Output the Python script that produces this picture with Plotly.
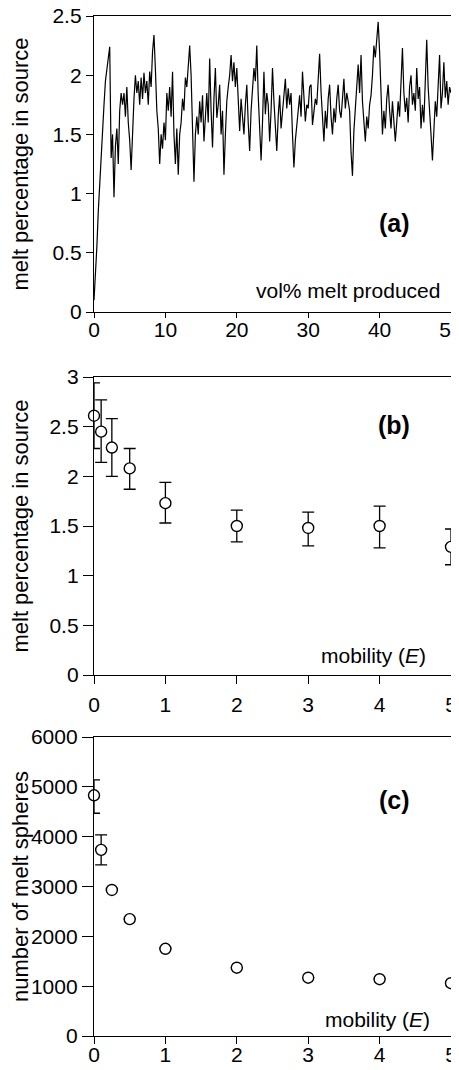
import plotly.graph_objects as go

# ---------------- Panel (a): melt percentage vs vol% melt produced ----------------
a_step = 0.2
a_y = [
    0.1, 0.3, 0.55, 0.85, 1.1, 1.3, 1.55, 1.75, 1.95, 2.05,
    2.15, 2.24, 1.3, 1.5, 0.97, 1.4, 1.55, 1.25, 1.7, 1.85,
    1.75, 1.85, 1.65, 1.9, 1.6, 1.45, 1.2, 1.55, 1.8, 2.0,
    1.85, 1.95, 1.75, 1.98, 1.8, 2.02, 1.85, 1.95, 1.75, 2.03,
    1.9, 2.2, 2.34, 2.05, 1.7, 1.55, 1.25, 1.5, 1.38, 1.6,
    1.45, 1.85, 1.7, 1.9, 1.65, 2.03, 1.5, 1.25, 1.55, 1.16,
    1.5, 1.6, 1.8, 1.7, 1.98, 1.9, 2.1, 2.25, 2.0, 1.6,
    1.1, 1.5, 1.65, 1.5, 1.78, 1.6, 1.83, 1.44, 1.7, 1.85,
    1.6, 2.14, 1.7, 1.39, 1.8, 2.06, 1.64, 1.75, 1.92, 1.5,
    1.7, 1.16, 1.5, 1.78, 1.9, 2.0, 2.17, 1.95, 2.11, 1.9,
    2.06, 1.78, 1.53, 1.8, 1.6, 1.5, 1.75, 1.92, 1.6, 1.36,
    1.7, 1.9, 2.06, 1.95, 2.25, 1.83, 1.55, 1.28, 1.6, 2.03,
    1.67, 1.85, 1.75, 1.44, 1.7, 2.06, 1.78, 1.6, 1.36, 1.65,
    1.83, 1.55, 1.7, 1.81, 1.97, 1.72, 1.89, 1.75, 1.85, 1.5,
    1.22, 1.45, 1.55, 1.7, 1.83, 1.65, 2.03, 1.8, 1.61, 1.75,
    1.72, 1.9, 1.92, 1.58, 1.7, 1.8, 1.75, 2.0, 2.18, 1.86,
    1.6, 1.44, 1.7, 1.55, 1.8, 1.92, 1.65, 1.5, 1.72, 1.6,
    1.8, 1.92, 1.7, 1.64, 1.8, 1.97, 1.72, 1.85, 1.78, 1.7,
    1.35, 1.15, 1.53, 1.7, 1.9, 2.09, 1.85, 2.17, 1.78, 1.6,
    1.44, 1.65, 1.55, 1.75, 1.83, 2.0, 2.25, 2.15, 2.3, 2.45,
    2.2, 1.9, 1.5, 1.7, 1.55, 1.8, 1.92, 1.7, 1.55, 1.78,
    1.6, 1.44, 1.6, 1.78, 1.65, 1.95, 2.23, 1.85, 1.69, 1.81,
    1.6, 1.9, 2.0, 1.75, 1.85, 1.7, 2.06, 1.8, 1.9, 1.55,
    1.75, 1.6, 1.95, 2.3, 1.9, 1.64, 1.5, 1.28, 1.55, 1.78,
    1.65, 1.9, 2.17, 1.72, 1.85, 2.11, 1.81, 1.95, 1.75, 1.9,
    1.85,
]
a_x = [round(i * a_step, 1) for i in range(len(a_y))]

# ---------------- Panels (b) and (c): vs mobility E ----------------
mobility = [0, 0.1, 0.25, 0.5, 1, 2, 3, 4, 5]

b_melt = [2.61, 2.45, 2.29, 2.08, 1.73, 1.50, 1.48, 1.50, 1.29]
b_err_plus = [0.33, 0.32, 0.29, 0.20, 0.21, 0.16, 0.16, 0.20, 0.18]
b_err_minus = [0.33, 0.31, 0.29, 0.21, 0.20, 0.16, 0.18, 0.22, 0.18]

c_spheres = [4830, 3735, 2930, 2345, 1750, 1370, 1170, 1140, 1060]
c_err_plus = [310, 300, 0, 0, 0, 0, 0, 0, 0]
c_err_minus = [360, 300, 0, 0, 0, 0, 0, 0, 0]

a_xticks = [0, 10, 20, 30, 40, 50]
a_yticks = [0, 0.5, 1, 1.5, 2, 2.5]
bc_xticks = [0, 1, 2, 3, 4, 5]
b_yticks = [0, 0.5, 1, 1.5, 2, 2.5, 3]
c_yticks = [0, 1000, 2000, 3000, 4000, 5000, 6000]

FONT = "Liberation Sans, Arial, Helvetica, sans-serif"
OFF = 8  # page body offset of the plot div
W, H = 459 - OFF, 1070 - OFF
ML, MR, MT, MB = 94 - OFF, 8, 16 - OFF, 34
PH = H - MT - MB
TICK_SIZE = 21
TITLE_SIZE = 22


def dom(top_px, bottom_px):
    # pixel positions on the page -> paper fractions
    top_px -= OFF
    bottom_px -= OFF
    return [1 - (bottom_px - MT) / PH, 1 - (top_px - MT) / PH]


fig = go.Figure()

fig.add_trace(go.Scatter(
    x=a_x, y=a_y, mode="lines", line=dict(color="black", width=1.2),
    xaxis="x", yaxis="y", showlegend=False, hoverinfo="skip",
))

marker = dict(symbol="circle", size=11, color="white",
              line=dict(color="black", width=1.4))

fig.add_trace(go.Scatter(
    x=mobility, y=b_melt, mode="markers", marker=marker,
    error_y=dict(type="data", symmetric=False, array=b_err_plus,
                 arrayminus=b_err_minus, color="black", thickness=1.3, width=6),
    xaxis="x2", yaxis="y2", showlegend=False, cliponaxis=False,
))

fig.add_trace(go.Scatter(
    x=mobility, y=c_spheres, mode="markers", marker=marker,
    error_y=dict(type="data", symmetric=False, array=c_err_plus,
                 arrayminus=c_err_minus, color="black", thickness=1.3, width=6),
    xaxis="x3", yaxis="y3", showlegend=False, cliponaxis=False,
))

axis_common = dict(
    showline=True, linecolor="black", linewidth=1.3, mirror=True,
    ticks="outside", tickcolor="black", tickwidth=1.3,
    showgrid=False, zeroline=False, automargin=False,
    ticklabeloverflow="allow",
    tickfont=dict(family=FONT, size=TICK_SIZE, color="black"),
)

title_font = dict(family=FONT, size=TITLE_SIZE, color="black")

fig.update_layout(
    width=W, height=H,
    margin=dict(l=ML, r=MR, t=MT, b=MB),
    paper_bgcolor="white", plot_bgcolor="white",
    font=dict(family=FONT, size=TICK_SIZE, color="black"),
    xaxis=dict(domain=[0, 1], anchor="y", range=[0, 50], tickvals=a_xticks,
               ticklen=5, ticklabelstandoff=-6, **axis_common),
    yaxis=dict(domain=dom(16, 312), anchor="x", range=[0, 2.5], tickvals=a_yticks,
               ticklen=7,
               title=dict(text="melt percentage in source", font=title_font, standoff=18),
               **axis_common),
    xaxis2=dict(domain=[0, 1], anchor="y2", range=[0, 5], tickvals=bc_xticks,
                ticklen=8, ticklabelstandoff=3, **axis_common),
    yaxis2=dict(domain=dom(377, 675), anchor="x2", range=[0, 3], tickvals=b_yticks,
                ticklen=10,
                title=dict(text="melt percentage in source", font=title_font, standoff=16),
                **axis_common),
    xaxis3=dict(domain=[0, 1], anchor="y3", range=[0, 5], tickvals=bc_xticks,
                ticklen=7, ticklabelstandoff=-7, **axis_common),
    yaxis3=dict(domain=dom(737, 1036), anchor="x3", range=[0, 6000], tickvals=c_yticks,
                ticklen=11,
                title=dict(text="number of melt spheres", font=title_font, standoff=0),
                **axis_common),
)

ann_bold = dict(family=FONT, size=25, color="black", weight="bold")
ann_norm = dict(family=FONT, size=21, color="black")

annotations = [
    dict(text="<b>(a)</b>", xref="x domain", yref="y domain", x=0.89, y=0.30,
         xanchor="right", yanchor="middle", showarrow=False, font=ann_bold),
    dict(text="vol% melt produced", xref="x domain", yref="y domain", x=0.975, y=0.074,
         xanchor="right", yanchor="middle", showarrow=False, font=ann_norm),
    dict(text="<b>(b)</b>", xref="x2 domain", yref="y2 domain", x=0.89, y=0.84,
         xanchor="right", yanchor="middle", showarrow=False, font=ann_bold),
    dict(text="mobility (<i>E</i>)", xref="x2 domain", yref="y2 domain", x=0.936, y=0.067,
         xanchor="right", yanchor="middle", showarrow=False, font=ann_norm),
    dict(text="<b>(c)</b>", xref="x3 domain", yref="y3 domain", x=0.89, y=0.79,
         xanchor="right", yanchor="middle", showarrow=False, font=ann_bold),
    dict(text="mobility (<i>E</i>)", xref="x3 domain", yref="y3 domain", x=0.947, y=0.054,
         xanchor="right", yanchor="middle", showarrow=False, font=ann_norm),
]
fig.update_layout(annotations=annotations)

fig.write_html("out.html")
